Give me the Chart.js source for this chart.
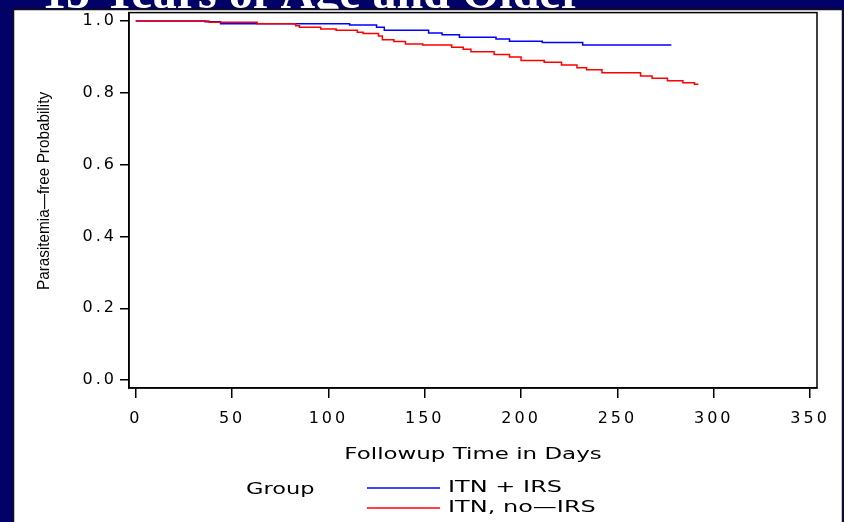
<!DOCTYPE html>
<html>
<head>
<meta charset="utf-8">
<script src="https://cdn.jsdelivr.net/npm/chart.js@4.4.0/dist/chart.umd.min.js"></script>
<style>
  html, body { margin: 0; padding: 0; background: #000066; }
  canvas { display: block; }
</style>
</head>
<body>
<canvas id="kmChart" width="844" height="522"></canvas>
<script>
// Kaplan-Meier curves (day of step, survival after it)
const irsDays = [0, 36, 44, 111, 125, 129, 152, 159, 168, 187, 194, 211, 232, 278];
const irsSurv = [1.0, 0.998, 0.9926, 0.989, 0.983, 0.974, 0.967, 0.962, 0.955, 0.950, 0.944, 0.940, 0.933, 0.933];

const noIrsDays = [0, 38, 63, 83, 85, 96, 104, 115, 118, 126, 128, 134, 140, 149, 164, 170, 174, 186, 194, 200, 212, 221, 229, 234, 242, 262, 268, 276, 284, 290, 292];
const noIrsSurv = [1.0, 0.9963, 0.9926, 0.987, 0.983, 0.978, 0.974, 0.969, 0.965, 0.958, 0.948, 0.943, 0.936, 0.933, 0.927, 0.9217, 0.9144, 0.907, 0.900, 0.890, 0.885, 0.8776, 0.870, 0.864, 0.856, 0.847, 0.8406, 0.8334, 0.828, 0.824, 0.824];

const groupLabels = ['ITN + IRS', 'ITN, no\u2014IRS'];
const xTicks = [0, 50, 100, 150, 200, 250, 300, 350];
const yTicks = [0.0, 0.2, 0.4, 0.6, 0.8, 1.0];

const chartTitle = '15 Years of Age and Older';
const xTitle = 'Followup Time in Days';
const yTitle = 'Parasitemia\u2014free Probability';
const legendTitle = 'Group';

const NAVY = '#000066';
const tickFont = { family: 'DejaVu Sans', size: 16 };

function toPoints(days, surv) {
    return days.map((d, i) => ({ x: d, y: surv[i] }));
}

// SAS draws its text stretched sideways
function wideText(ctx, text, x, y, sx) {
    ctx.save();
    ctx.translate(x, y);
    ctx.scale(sx, 1);
    ctx.fillText(text, 0, 0);
    ctx.restore();
}

// background, cut-off slide title and the white panel
const panelPlugin = {
    id: 'panel',
    beforeDraw(chart) {
        const ctx = chart.ctx;
        ctx.save();
        ctx.letterSpacing = '0px';
        ctx.fillStyle = NAVY;
        ctx.fillRect(0, 0, chart.width, chart.height);
        ctx.fillStyle = '#fff';
        ctx.font = 'bold 48px "Liberation Serif"';
        ctx.textAlign = 'left';
        ctx.textBaseline = 'alphabetic';
        ctx.fillText(chartTitle, 42, 8);
        ctx.fillStyle = '#fff';
        ctx.fillRect(13, 9, 830, chart.height - 9);
        ctx.strokeStyle = '#111';
        ctx.lineWidth = 1.5;
        ctx.strokeRect(13.5, 9.5, 829, chart.height + 5);
        ctx.restore();
        // spaced-out tick labels
        ctx.letterSpacing = '3px';
    },
    afterDraw(chart) {
        const ctx = chart.ctx;
        const a = chart.chartArea;
        ctx.save();
        ctx.letterSpacing = '0px';
        // plot frame
        ctx.strokeStyle = '#000';
        ctx.lineWidth = 1.5;
        ctx.strokeRect(a.left, a.top, a.right - a.left, a.bottom - a.top);

        ctx.fillStyle = '#000';
        ctx.font = '15px "DejaVu Sans"';
        ctx.textBaseline = 'middle';
        ctx.textAlign = 'center';
        wideText(ctx, xTitle, (a.left + a.right) / 2, 455, 1.53);

        // legend
        ctx.textAlign = 'left';
        wideText(ctx, legendTitle, 246, 490, 1.5);
        chart.data.datasets.forEach((ds, i) => {
            const y = 488 + i * 20;
            ctx.strokeStyle = ds.borderColor;
            ctx.lineWidth = 1.5;
            ctx.beginPath();
            ctx.moveTo(367, y);
            ctx.lineTo(440, y);
            ctx.stroke();
            wideText(ctx, ds.label, 448, y, 1.6);
        });

        // y title, narrow
        ctx.font = '17px "Liberation Sans"';
        ctx.textBaseline = 'alphabetic';
        ctx.textAlign = 'center';
        ctx.translate(49, 191);
        ctx.rotate(-Math.PI / 2);
        ctx.scale(0.9, 1);
        ctx.fillText(yTitle, 0, 0);
        ctx.restore();
    }
};

new Chart(document.getElementById('kmChart'), {
    type: 'line',
    data: {
        datasets: [{
            label: groupLabels[0],
            data: toPoints(irsDays, irsSurv),
            borderColor: '#0000ff',
            order: 1
        }, {
            label: groupLabels[1],
            data: toPoints(noIrsDays, noIrsSurv),
            borderColor: '#ff0000',
            order: 0
        }]
    },
    options: {
        responsive: false,
        animation: false,
        layout: { padding: { left: 0, top: 10, right: 27, bottom: 0 } },
        elements: {
            line: { borderWidth: 1.5, stepped: true, fill: false, tension: 0 },
            point: { radius: 0, hoverRadius: 0 }
        },
        plugins: {
            legend: { display: false },
            tooltip: { enabled: false }
        },
        scales: {
            x: {
                type: 'linear',
                position: 'bottom',
                min: -3.5,
                max: 353.6,
                afterBuildTicks: axis => { axis.ticks = xTicks.map(v => ({ value: v })); },
                afterFit: axis => { axis.height = 134; },
                grid: { display: true, drawOnChartArea: false, drawTicks: true, tickLength: 10, color: '#000', lineWidth: 1.5 },
                border: { display: true, color: '#000', width: 1.5 },
                ticks: { font: tickFont, color: '#000', padding: 11, maxRotation: 0, autoSkip: false, callback: v => String(v) }
            },
            y: {
                type: 'linear',
                min: -0.0221,
                max: 1.0235,
                afterBuildTicks: axis => { axis.ticks = yTicks.map(v => ({ value: v })); },
                afterFit: axis => { axis.width = 129; },
                grid: { display: true, drawOnChartArea: false, drawTicks: true, tickLength: 9, color: '#000', lineWidth: 1.5 },
                border: { display: true, color: '#000', width: 1.5 },
                ticks: { font: tickFont, color: '#000', padding: 3, callback: v => v.toFixed(1) }
            }
        }
    },
    plugins: [panelPlugin]
});
</script>
</body>
</html>
